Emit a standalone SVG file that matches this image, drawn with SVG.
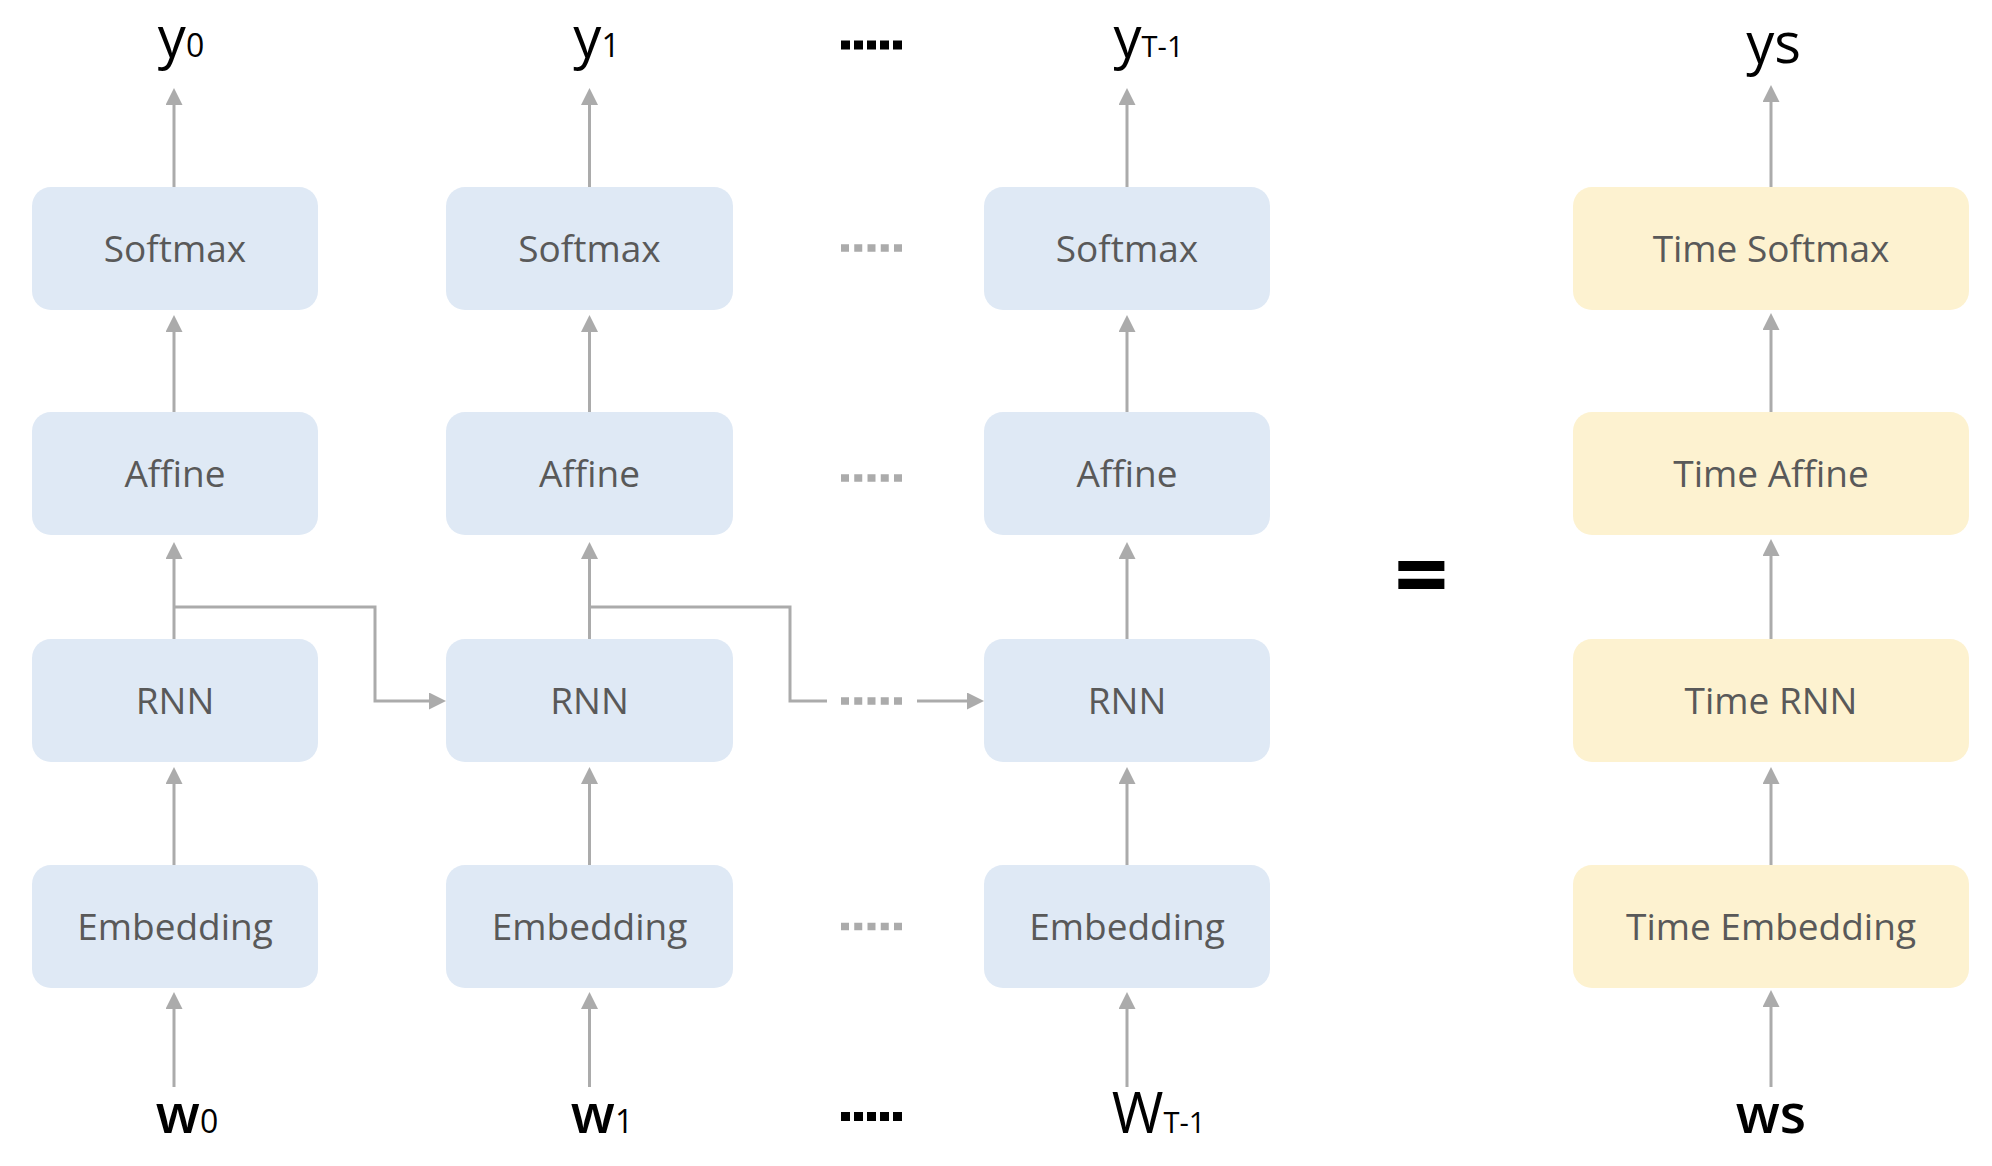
<svg xmlns="http://www.w3.org/2000/svg" width="1992" height="1166" viewBox="0 0 1992 1166">
<defs>
<marker id="ah" markerUnits="userSpaceOnUse" markerWidth="17" markerHeight="17" refX="1" refY="8.5" orient="auto">
<path d="M0,0 L17,8.5 L0,17 Z" fill="#ababab"/>
</marker>
<style>
.b{fill:#dfe9f5}
.t{fill:#fdf2d0}
.lbl{font-family:"Open Sans","Noto Sans",sans-serif;font-size:37px;fill:#595959;text-anchor:middle}
.io{font-family:"Open Sans","Noto Sans",sans-serif;fill:#000;text-anchor:middle}
.c{fill:none;stroke:#ababab;stroke-width:3}
.a{marker-end:url(#ah)}
.gd{stroke:#ababab;stroke-width:7.5;stroke-dasharray:8 5.25;fill:none}
.kd{stroke:#000;stroke-width:9;stroke-dasharray:9 4;fill:none}
</style>
</defs>
<rect width="1992" height="1166" fill="#fff"/>
<g id="connectors">
<line class="c a" x1="174" y1="187" x2="174" y2="104"/>
<line class="c a" x1="174" y1="412" x2="174" y2="331"/>
<line class="c a" x1="174" y1="639" x2="174" y2="558"/>
<line class="c a" x1="174" y1="865" x2="174" y2="783"/>
<line class="c a" x1="174" y1="1087" x2="174" y2="1008"/>
<path class="c a" d="M174,607 H375 V701 H430"/>
<line class="c a" x1="589.5" y1="187" x2="589.5" y2="104"/>
<line class="c a" x1="589.5" y1="412" x2="589.5" y2="331"/>
<line class="c a" x1="589.5" y1="639" x2="589.5" y2="558"/>
<line class="c a" x1="589.5" y1="865" x2="589.5" y2="783"/>
<line class="c a" x1="589.5" y1="1087" x2="589.5" y2="1008"/>
<path class="c" d="M589.5,607 H790 V701 H827"/>
<line class="c a" x1="917" y1="701" x2="968" y2="701"/>
<line class="c a" x1="1127" y1="187" x2="1127" y2="104"/>
<line class="c a" x1="1127" y1="412" x2="1127" y2="331"/>
<line class="c a" x1="1127" y1="639" x2="1127" y2="558"/>
<line class="c a" x1="1127" y1="865" x2="1127" y2="783"/>
<line class="c a" x1="1127" y1="1087" x2="1127" y2="1008"/>
<line class="c a" x1="1771" y1="187" x2="1771" y2="101"/>
<line class="c a" x1="1771" y1="412" x2="1771" y2="329"/>
<line class="c a" x1="1771" y1="639" x2="1771" y2="555"/>
<line class="c a" x1="1771" y1="865" x2="1771" y2="783"/>
<line class="c a" x1="1771" y1="1087" x2="1771" y2="1006"/>
<line class="gd" x1="841" y1="248" x2="902" y2="248"/>
<line class="gd" x1="841" y1="478" x2="902" y2="478"/>
<line class="gd" x1="841" y1="701" x2="902" y2="701"/>
<line class="gd" x1="841" y1="926.5" x2="902" y2="926.5"/>
<line class="kd" x1="841" y1="45" x2="902" y2="45"/>
<line class="kd" x1="841" y1="1116.5" x2="902" y2="1116.5"/>
</g>
<g id="softmax0"><rect class="b" x="32" y="187" width="286" height="123" rx="19"/><text class="lbl" x="175" y="262">Softmax</text></g>
<g id="affine0"><rect class="b" x="32" y="412" width="286" height="123" rx="19"/><text class="lbl" x="175" y="487">Affine</text></g>
<g id="rnn0"><rect class="b" x="32" y="639" width="286" height="123" rx="19"/><text class="lbl" x="175" y="714">RNN</text></g>
<g id="embedding0"><rect class="b" x="32" y="865" width="286" height="123" rx="19"/><text class="lbl" x="175" y="940">Embedding</text></g>
<g id="softmax1"><rect class="b" x="446" y="187" width="287" height="123" rx="19"/><text class="lbl" x="589.5" y="262">Softmax</text></g>
<g id="affine1"><rect class="b" x="446" y="412" width="287" height="123" rx="19"/><text class="lbl" x="589.5" y="487">Affine</text></g>
<g id="rnn1"><rect class="b" x="446" y="639" width="287" height="123" rx="19"/><text class="lbl" x="589.5" y="714">RNN</text></g>
<g id="embedding1"><rect class="b" x="446" y="865" width="287" height="123" rx="19"/><text class="lbl" x="589.5" y="940">Embedding</text></g>
<g id="softmaxT"><rect class="b" x="984" y="187" width="286" height="123" rx="19"/><text class="lbl" x="1127" y="262">Softmax</text></g>
<g id="affineT"><rect class="b" x="984" y="412" width="286" height="123" rx="19"/><text class="lbl" x="1127" y="487">Affine</text></g>
<g id="rnnT"><rect class="b" x="984" y="639" width="286" height="123" rx="19"/><text class="lbl" x="1127" y="714">RNN</text></g>
<g id="embeddingT"><rect class="b" x="984" y="865" width="286" height="123" rx="19"/><text class="lbl" x="1127" y="940">Embedding</text></g>
<g id="timeSoftmax"><rect class="t" x="1573" y="187" width="396" height="123" rx="19"/><text class="lbl" x="1771" y="262">Time Softmax</text></g>
<g id="timeAffine"><rect class="t" x="1573" y="412" width="396" height="123" rx="19"/><text class="lbl" x="1771" y="487">Time Affine</text></g>
<g id="timeRNN"><rect class="t" x="1573" y="639" width="396" height="123" rx="19"/><text class="lbl" x="1771" y="714">Time RNN</text></g>
<g id="timeEmbedding"><rect class="t" x="1573" y="865" width="396" height="123" rx="19"/><text class="lbl" x="1771" y="940">Time Embedding</text></g>
<g id="labels">
<text class="io" x="181" y="57" font-size="56" font-weight="500">y<tspan font-size="32" font-weight="normal">0</tspan></text>
<text class="io" x="596.5" y="57" font-size="56" font-weight="500">y<tspan font-size="32" font-weight="normal">1</tspan></text>
<text class="io" x="1148.5" y="57" font-size="56" font-weight="500">y<tspan font-size="29" font-weight="normal">T-1</tspan></text>
<text class="io" x="1773.5" y="63" font-size="56" font-weight="500">ys</text>
<text class="io" x="187" y="1133" font-size="54" font-weight="600">w<tspan font-size="32" font-weight="normal">0</tspan></text>
<text class="io" x="602" y="1133" font-size="54" font-weight="600">w<tspan font-size="32" font-weight="normal">1</tspan></text>
<text class="io" x="1158.5" y="1133" font-size="56">W<tspan font-size="29">T-1</tspan></text>
<text class="io" x="1771" y="1133" font-size="54" font-weight="600">ws</text>
<text class="io" x="1421.5" y="608" font-size="95" font-weight="bold">=</text>
</g>
</svg>
